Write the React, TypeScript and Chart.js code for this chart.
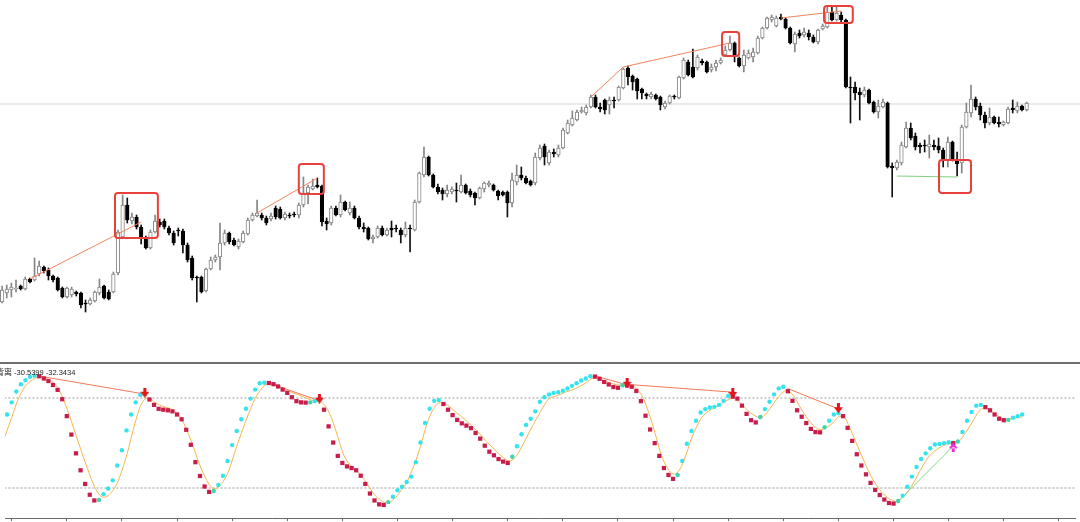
import React, { useEffect, useRef } from 'react';
import { Chart, registerables } from 'chart.js';

Chart.register(...registerables);

// ---------- price data (one entry per bar) ----------
const openP = [
  98,107,110,111,114,111,121,120,126,133,
  130,124,122,112,103,105,108,107,97,96,
  99,107,114,108,108,127,163,195,179,183,
  173,161,152,168,178,179,172,167,170,169,
  155,142,123,123,109,131,140,143,157,167,
  160,153,158,166,180,184,185,182,181,192,
  191,182,185,186,185,195,207,211,215,214,
  179,177,192,185,198,187,192,182,173,172,
  161,163,172,165,172,172,170,165,172,170,
  198,225,243,225,213,210,206,208,210,208,
  215,209,207,202,211,215,215,209,208,208,
  197,218,225,222,219,217,242,254,237,248,
  245,252,267,275,280,288,287,293,303,293,
  300,295,300,300,312,332,324,321,311,306,
  303,305,303,293,297,304,302,322,338,333,
  332,339,338,330,333,337,345,350,357,342,
  334,342,343,347,362,372,380,374,383,381,
  372,356,367,365,367,363,358,371,373,388,
  380,385,380,313,313,308,305,310,298,288,
  293,297,234,232,237,253,272,264,255,255,
  253,255,254,250,240,258,239,237,273,287,
  301,294,285,277,283,278,275,277,292,289,
  294,290
];
const highP = [
  114,115,117,120,115,123,122,142,139,134,
  132,125,123,113,113,113,109,108,100,102,
  109,121,115,110,128,170,205,202,187,185,
  175,164,170,185,181,181,174,169,172,171,
  157,144,124,124,132,143,145,177,170,168,
  162,161,169,182,187,200,187,184,187,194,
  193,188,187,188,197,223,215,221,222,215,
  182,194,194,205,199,198,194,184,177,173,
  165,174,174,172,179,175,172,178,175,200,
  228,253,244,226,216,212,215,213,217,225,
  216,211,208,213,218,219,216,210,209,209,
  227,235,233,224,220,247,255,256,250,251,
  255,272,280,289,290,293,295,305,305,297,
  301,303,303,314,332,334,325,322,312,307,
  308,306,304,299,305,305,324,342,340,351,
  345,341,339,336,340,342,354,364,358,343,
  350,350,352,364,373,383,385,384,386,382,
  373,368,370,372,370,365,371,376,394,393,
  393,388,381,323,318,312,313,311,299,300,
  301,298,237,240,258,278,277,267,257,260,
  265,260,262,252,263,259,248,275,297,315,
  303,297,288,292,284,283,279,293,300,298,
  295,298
];
const lowP = [
  97,102,103,108,110,110,117,119,124,127,
  120,118,109,102,102,103,104,92,88,95,
  98,105,101,100,107,125,162,177,176,171,
  156,151,151,167,173,171,165,155,164,147,
  138,120,98,107,108,130,138,130,155,156,
  154,151,157,165,179,183,180,175,179,181,
  181,180,182,183,182,193,196,210,212,174,
  170,175,184,183,189,185,181,171,168,160,
  157,162,164,164,163,168,157,163,148,169,
  197,223,224,212,206,200,203,206,198,207,
  206,203,195,201,208,213,209,200,204,183,
  193,215,220,216,214,215,240,235,235,243,
  243,251,266,274,279,287,285,292,292,288,
  286,286,292,299,311,315,310,301,301,301,
  301,300,290,291,296,301,301,321,324,322,
  330,335,327,328,329,336,344,349,338,333,
  328,341,338,346,361,371,378,373,380,371,
  356,348,362,363,360,357,356,370,372,379,
  379,378,312,277,300,280,303,296,287,282,
  292,232,203,230,235,252,260,250,247,248,
  242,250,247,233,233,239,224,227,272,283,
  290,280,272,275,276,273,274,276,287,287,
  289,289
];
const closeP = [
  110,111,113,112,111,121,118,124,134,129,
  124,120,110,103,112,111,106,95,96,100,
  108,113,102,101,126,168,195,180,183,173,
  162,152,168,179,175,173,167,157,169,155,
  140,122,122,108,131,140,143,157,167,158,
  155,159,167,180,185,187,182,177,184,183,
  182,186,184,185,195,207,213,214,213,178,
  176,192,185,198,190,192,182,173,171,161,
  163,172,165,170,170,171,165,172,171,198,
  227,243,225,213,208,206,210,211,209,215,
  207,205,202,212,217,217,210,204,205,197,
  220,225,222,217,215,243,252,243,248,246,
  252,270,277,282,288,290,293,303,293,291,
  290,300,299,313,331,323,318,309,307,304,
  306,301,295,297,304,303,323,340,325,323,
  343,337,328,333,337,340,350,357,345,334,
  345,347,348,362,372,382,383,382,381,372,
  357,366,364,368,363,358,370,374,388,380,
  387,380,313,312,307,305,310,297,288,294,
  298,233,232,238,255,272,262,253,253,254,
  256,253,250,240,258,240,236,273,288,301,
  293,285,277,283,277,276,278,291,290,294,
  290,297
];
const currentPrice = 296;

// price divergence lines (bar index, price)
const priceLineA_x = [6, 30];    const priceLineA_y = [121, 178];
const priceLineB_x = [55, 68];   const priceLineB_y = [187, 222];
const priceLineC_x = [127, 134, 157]; const priceLineC_y = [303, 333, 357];
const priceLineD_x = [168, 181]; const priceLineD_y = [382, 389];
const priceGreen_x = [193, 206]; const priceGreen_y = [224, 223];

// highlighted boxes (bar index range, price range)
const boxStart = [24.35, 64.0, 155.3, 177.3, 202.1];
const boxEnd = [33.6, 69.4, 159.0, 183.5, 209.0];
const boxTop = [207, 236, 368, 394, 240];
const boxBottom = [162, 206, 344, 377, 207];

// ---------- oscillator ----------
const oscValues = [
  69.0,77.1,84.3,89.2,91.9,94.1,94.9,94.5,93.0,91.3,
  88.7,85.4,79.2,67.9,55.6,43.1,31.8,22.7,15.5,11.7,
  12.0,15.9,19.7,25.1,35.0,45.2,58.4,69.0,77.1,82.2,
  82.6,79.0,75.4,72.8,72.2,71.8,71.1,69.0,65.8,58.8,
  48.8,37.2,28.0,21.0,17.4,18.0,22.0,28.2,38.0,48.6,
  58.0,65.8,72.8,79.6,85.6,89.8,90.2,90.0,89.2,87.7,
  85.6,83.4,80.5,77.9,77.1,76.9,77.1,77.9,78.6,72.2,
  61.1,50.3,41.4,36.7,34.4,33.3,31.8,28.2,22.7,16.3,
  11.7,9.1,8.7,10.6,14.2,18.5,20.8,24.0,27.6,37.2,
  50.3,63.3,72.8,78.1,78.6,76.0,72.2,68.6,65.4,63.1,
  61.6,59.9,56.7,52.9,48.2,44.2,41.8,39.3,37.6,36.7,
  40.8,47.8,55.8,62.0,66.2,71.1,77.5,80.5,82.4,83.4,
  83.9,84.9,86.4,88.1,89.8,91.7,93.0,94.5,94.3,92.8,
  90.7,89.0,87.3,86.8,88.5,88.3,87.5,84.7,77.9,68.2,
  59.0,49.9,41.4,33.3,28.7,26.1,28.7,38.0,49.5,58.0,
  64.8,70.3,72.6,73.7,74.1,75.4,78.1,81.3,80.9,79.6,
  74.9,69.4,65.2,63.7,67.3,72.6,77.5,82.4,86.4,87.5,
  84.5,78.1,71.8,67.5,63.3,59.4,57.3,57.1,60.5,64.8,
  69.0,69.9,67.9,60.1,51.4,42.5,35.0,29.1,23.4,18.7,
  15.3,12.3,10.0,9.6,11.3,14.9,20.8,27.6,34.0,39.3,
  43.1,46.5,49.0,49.3,49.9,50.5,49.9,51.0,57.3,64.8,
  70.7,74.9,75.4,73.9,71.8,69.0,66.2,65.2,65.4,66.9,
  67.9,69.0
];
const signalX = [
  -0.45,1,2,3,4,5,6,7,8,9,11,13,15,17,19,20,21,22,24,26,28,29,30,31,32,34,36,38,40,42,44,45,46,48,50,52,54,56,
  57.6,59.8,61.9,64.1,66.3,67.7,69.1,70.6,72,73.1,74.2,75.6,77,78.5,79.9,81.4,82.8,84.3,85.7,87.1,88.6,90,91.4,
  92.9,94.3,95.8,97.9,100,102.2,104.4,106.5,108,109.4,110.9,112.3,113.7,115.2,117,118,119.5,121.6,123.8,125.9,
  127.8,129.6,131.5,133.9,135.7,137.1,138.2,139.6,141.1,142.5,143.9,145,146.1,147.5,148.9,150.4,151.8,153.9,
  156.2,158.3,159.7,161.1,162.6,164,165.4,166.9,168.4,169.6,171.2,172.6,173.9,175.6,177,178.5,179.9,181.3,
  182.4,183.4,184.9,186.4,187.8,189.2,190.7,192.5,193.7,195,196.5,197.9,199.4,200.8,202.9,205.1,206.9,208.3,
  210.1,211.6,213,214.4,215.9,217.3,218.7,220.9
];
const signalV = [
  54.6,67,76,83,88,91,93,94.1,93.8,92.4,87.0,73.2,55.2,37.2,21.2,15.9,13.8,14.9,23.4,41.4,64.8,74.3,79.2,80.0,
  77.5,74.3,72.2,65.8,52.0,35.0,22.3,19.7,20.6,29.7,47.8,64.8,79.6,88.1,
  89.8,86.4,83.9,81.3,78.6,77.9,75.4,66.9,54.1,43.5,37.2,33.1,28.7,22.3,15.9,11.7,10.2,12.7,18.0,24.4,35.0,47.8,62.6,
  73.2,76.9,75.4,70.1,64.8,58.4,51.0,44.6,40.3,38.0,41.4,48.8,57.3,65.8,75.4,79.6,81.3,83.9,86.4,89.8,
  93.4,91.9,89.8,88.5,88.5,86.0,81.7,71.1,56.3,41.4,32.9,29.3,30.8,39.3,52.0,62.6,69.0,73.2,
  77.5,80.0,76.4,72.2,68.6,66.9,70.1,76.4,82.2,84.9,81.7,74.3,67.9,61.6,58.8,60.5,63.7,67.9,
  66.9,60.5,49.9,39.3,29.7,22.3,16.3,12.1,11.0,13.8,19.1,26.5,35.0,41.4,46.7,49.5,50.3,55.2,
  63.7,71.1,73.7,71.1,67.9,65.8,66.2,67.3
];
const levelHigh = 80;
const levelLow = 20;

// oscillator divergence lines
const oscLine1_x = [6.5, 29.6]; const oscLine1_y = [94.9, 82.8];
const oscLine2_x = [56.8, 67.6]; const oscLine2_y = [90.2, 78.6];
const oscLine3_x = [127.8, 134.5, 157.9]; const oscLine3_y = [94.9, 89.2, 83.9];
const oscLine4_x = [169.9, 180.6]; const oscLine4_y = [86.4, 73.2];
const oscGreen_x = [194.1, 205.8]; const oscGreen_y = [11.3, 47.3];

// signal arrows
const downArrowX = [30, 68, 135, 158, 181];
const downArrowY = [83.5, 79.6, 90.2, 83.4, 73.2];
const upArrowX = [206];
const upArrowY = [47.1];

const legendName = '背离';
const legendValues = ' -30.5399 -32.3434';

const X_MIN = -0.453;
const X_MAX = 232.51;

function pts(xs: number[], ys: number[]) {
  return xs.map((x, k) => ({ x, y: ys[k] }));
}

function makeArrow(color: string, up: boolean) {
  const c = document.createElement('canvas');
  c.width = 9;
  c.height = 10;
  const g = c.getContext('2d')!;
  g.fillStyle = color;
  g.beginPath();
  if (!up) {
    g.rect(3, 0, 3, 5);
    g.moveTo(0, 4);
    g.lineTo(9, 4);
    g.lineTo(4.5, 10);
  } else {
    g.rect(3, 5, 3, 5);
    g.moveTo(0, 6);
    g.lineTo(9, 6);
    g.lineTo(4.5, 0);
  }
  g.fill();
  return c;
}

const boxPlugin = {
  id: 'boxes',
  afterDatasetsDraw(chart: any) {
    const { ctx } = chart;
    const xs = chart.scales.x;
    const ys = chart.scales.y;
    ctx.save();
    ctx.strokeStyle = '#e8403c';
    ctx.lineWidth = 2;
    for (let k = 0; k < boxStart.length; k++) {
      const x0 = xs.getPixelForValue(boxStart[k]);
      const x1 = xs.getPixelForValue(boxEnd[k]);
      const y0 = ys.getPixelForValue(boxTop[k]);
      const y1 = ys.getPixelForValue(boxBottom[k]);
      ctx.beginPath();
      if (ctx.roundRect) ctx.roundRect(x0, y0, x1 - x0, y1 - y0, 3);
      else ctx.rect(x0, y0, x1 - x0, y1 - y0);
      ctx.stroke();
    }
    ctx.restore();
  },
};

export default function App() {
  const topRef = useRef<HTMLCanvasElement>(null);
  const botRef = useRef<HTMLCanvasElement>(null);

  useEffect(() => {
    const idx = openP.map((_, i) => i);
    const bull = idx.map((i) => closeP[i] >= openP[i]);

    const thinLine = (data: any[], color: string, order: number) => ({
      type: 'line' as const,
      data,
      borderColor: color,
      borderWidth: 1,
      pointRadius: 0,
      tension: 0,
      order,
    });

    const top = new Chart(topRef.current!, {
      type: 'bar',
      data: {
        datasets: [
          {
            type: 'line',
            data: [{ x: X_MIN - 1, y: currentPrice }, { x: X_MAX + 1, y: currentPrice }],
            borderColor: '#e2e2e2',
            borderWidth: 1.5,
            pointRadius: 0,
            order: 10,
          } as any,
          {
            type: 'bar',
            data: idx.map((i) => ({ x: i, y: [lowP[i], highP[i]] })),
            backgroundColor: idx.map((i) => (bull[i] ? '#858585' : '#111111')),
            barThickness: 1,
            grouped: false,
            order: 6,
          } as any,
          {
            type: 'bar',
            data: idx.map((i) => ({ x: i, y: [openP[i], closeP[i]] })),
            backgroundColor: idx.map((i) => (bull[i] ? '#ffffff' : '#000000')),
            borderColor: idx.map((i) => (bull[i] ? '#858585' : '#000000')),
            borderWidth: 1,
            borderSkipped: false,
            barThickness: 3.6,
            grouped: false,
            order: 5,
          } as any,
          thinLine(pts(priceLineA_x, priceLineA_y), '#f2855e', 3),
          thinLine(pts(priceLineB_x, priceLineB_y), '#f2855e', 3),
          thinLine(pts(priceLineC_x, priceLineC_y), '#f2855e', 3),
          thinLine(pts(priceLineD_x, priceLineD_y), '#f2855e', 3),
          thinLine(pts(priceGreen_x, priceGreen_y), '#7fd07f', 3),
        ],
      },
      options: {
        responsive: false,
        animation: false,
        events: [],
        layout: { padding: 0 },
        plugins: { legend: { display: false }, tooltip: { enabled: false } },
        scales: {
          x: { type: 'linear', min: X_MIN, max: X_MAX, offset: false, display: false },
          y: { type: 'linear', min: 38, max: 400, display: false },
        },
      },
      plugins: [boxPlugin],
    } as any);

    const downArrow = makeArrow('#e3161c', false);
    const upArrow = makeArrow('#f02ad8', true);

    const colors = oscValues.map((v, i) => {
      if (i === 0) return '#34e3ec';
      const prev = oscValues[i - 1];
      if (v > prev) {
        const prevFalling = i >= 2 && prev <= oscValues[i - 2];
        return prevFalling ? '#3fd4b0' : '#34e3ec';
      }
      return '#c81d4b';
    });
    const rising = oscValues.map((v, i) => i === 0 || v > oscValues[i - 1]);

    const bottom = new Chart(botRef.current!, {
      type: 'line',
      data: {
        datasets: [
          {
            data: [{ x: X_MIN - 1, y: levelHigh }, { x: X_MAX + 1, y: levelHigh }],
            borderColor: '#9e9e9e',
            borderWidth: 1,
            borderDash: [2, 2],
            pointRadius: 0,
            order: 9,
          },
          {
            data: [{ x: X_MIN - 1, y: levelLow }, { x: X_MAX + 1, y: levelLow }],
            borderColor: '#9e9e9e',
            borderWidth: 1,
            borderDash: [2, 2],
            pointRadius: 0,
            order: 9,
          },
          {
            data: pts(signalX, signalV),
            borderColor: '#f7b54c',
            borderWidth: 1,
            pointRadius: 0,
            cubicInterpolationMode: 'monotone',
            order: 4,
          },
          thinLine(pts(oscLine1_x, oscLine1_y), '#f07a58', 3),
          thinLine(pts(oscLine2_x, oscLine2_y), '#f07a58', 3),
          thinLine(pts(oscLine3_x, oscLine3_y), '#f07a58', 3),
          thinLine(pts(oscLine4_x, oscLine4_y), '#f07a58', 3),
          thinLine(pts(oscGreen_x, oscGreen_y), '#86d886', 3),
          {
            data: oscValues.map((v, i) => ({ x: i, y: v })),
            showLine: false,
            pointStyle: rising.map((r) => (r ? 'circle' : 'rect')),
            pointRadius: rising.map((r) => (r ? 2.2 : 3)),
            pointBackgroundColor: colors,
            pointBorderColor: colors,
            pointBorderWidth: 0,
            order: 1,
          },
          {
            data: pts(downArrowX, downArrowY),
            showLine: false,
            pointStyle: downArrow,
            order: 0,
          },
          {
            data: pts(upArrowX, upArrowY),
            showLine: false,
            pointStyle: upArrow,
            order: 0,
          },
        ],
      },
      options: {
        responsive: false,
        animation: false,
        events: [],
        layout: { padding: 0 },
        plugins: { legend: { display: false }, tooltip: { enabled: false } },
        scales: {
          x: {
            type: 'linear',
            min: X_MIN,
            max: X_MAX,
            offset: false,
            afterBuildTicks: (scale: any) => {
              const t = [];
              for (let v = 1; v <= X_MAX; v += 12) t.push({ value: v });
              scale.ticks = t;
            },
            ticks: { display: false },
            grid: { drawOnChartArea: false, drawTicks: true, tickLength: 3, color: '#6a6a6a' },
            border: { display: true, color: '#6a6a6a', width: 1 },
          },
          y: { type: 'linear', min: 0, max: 100, display: false },
        },
      },
    } as any);

    return () => {
      top.destroy();
      bottom.destroy();
    };
  }, []);

  return (
    <div style={{ position: 'fixed', left: 0, top: 0, width: 1080, height: 522, background: '#ffffff', overflow: 'hidden' }}>
      <canvas ref={topRef} width={1080} height={362} style={{ position: 'absolute', left: 0, top: 0, width: 1080, height: 362 }} />
      <canvas ref={botRef} width={1080} height={160} style={{ position: 'absolute', left: 0, top: 363, width: 1080, height: 160 }} />
      <div style={{ position: 'absolute', left: 0, top: 362, width: 1080, height: 2, background: '#6e6e6e' }} />
      <div
        style={{
          position: 'absolute',
          left: -4,
          top: 364,
          color: '#222222',
          whiteSpace: 'pre',
          lineHeight: '11px',
        }}
      >
        <span style={{ fontFamily: '"Noto Sans CJK SC", sans-serif', fontSize: '8px' }}>{legendName}</span>
        <span style={{ fontFamily: '"Liberation Sans", sans-serif', fontSize: '7.5px' }}>{legendValues}</span>
      </div>
    </div>
  );
}
